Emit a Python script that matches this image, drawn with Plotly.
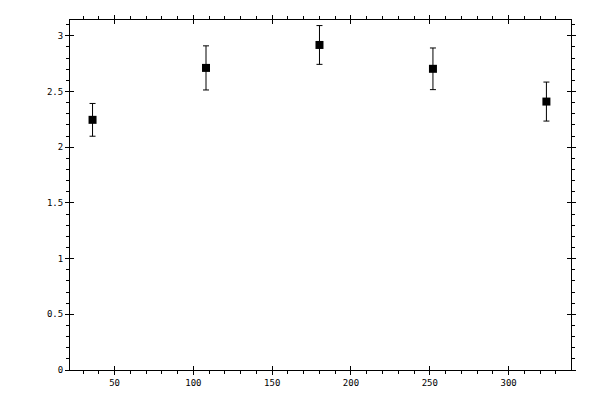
import plotly.graph_objects as go

x_vals = [36, 108, 180, 252, 324]
y_vals = [2.245, 2.711, 2.917, 2.703, 2.409]
y_err = [0.147, 0.198, 0.174, 0.187, 0.175]

x_ticks = [50, 100, 150, 200, 250, 300]
y_ticks = [0, 0.5, 1, 1.5, 2, 2.5, 3]
y_tick_text = ["0", "0.5", "1", "1.5", "2", "2.5", "3"]

x_range = [21.7, 339.6]
y_range = [0, 3.141]

fig = go.Figure()
fig.add_trace(go.Scatter(
    x=x_vals, y=y_vals, mode="markers",
    marker=dict(symbol="square", size=8, color="black"),
    error_y=dict(type="data", array=y_err, visible=True, color="black", thickness=1, width=3),
    showlegend=False,
))
# invisible trace to hold the overlay axes (inward half of major ticks)
fig.add_trace(go.Scatter(x=[x_range[0]], y=[y_range[0]], xaxis="x2", yaxis="y2",
                         mode="markers", marker=dict(opacity=0), showlegend=False, hoverinfo="skip"))

font = dict(family="DejaVu Sans Mono", size=9, color="black")
common = dict(showgrid=False, zeroline=False, showline=True, linecolor="black", linewidth=1,
              ticks="outside", ticklen=4, tickwidth=1, tickcolor="black", mirror="ticks",
              tickfont=font)

fig.update_layout(
    width=600, height=400,
    margin=dict(l=62, r=37, t=7, b=38),
    paper_bgcolor="white", plot_bgcolor="white",
    xaxis=dict(range=x_range, tickvals=x_ticks, ticktext=[str(v) for v in x_ticks],
               minor=dict(dtick=10, tick0=0, ticks="outside", ticklen=3, tickcolor="black", tickwidth=1),
               **common),
    yaxis=dict(range=y_range, tickvals=y_ticks, ticktext=y_tick_text,
               minor=dict(dtick=0.1, tick0=0, ticks="outside", ticklen=3, tickcolor="black", tickwidth=1),
               **common),
    xaxis2=dict(range=x_range, overlaying="x", anchor="y2", tickvals=x_ticks, showticklabels=False,
                ticks="inside", ticklen=4, tickcolor="black", tickwidth=1, mirror="ticks",
                showgrid=False, zeroline=False, showline=False),
    yaxis2=dict(range=y_range, overlaying="y", anchor="x2", tickvals=y_ticks, showticklabels=False,
                ticks="inside", ticklen=4, tickcolor="black", tickwidth=1, mirror="ticks",
                showgrid=False, zeroline=False, showline=False),
)

fig.write_html("out.html")
